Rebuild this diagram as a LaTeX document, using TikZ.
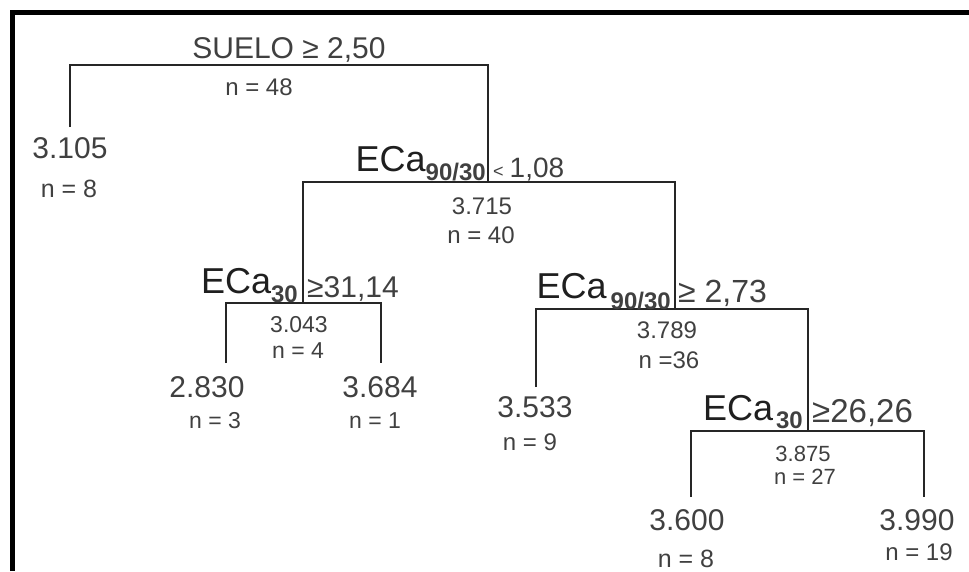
\documentclass[tikz,border=0pt]{standalone}
\usepackage{fontspec}
\setmainfont{Liberation Sans}
\begin{document}
\begin{tikzpicture}[x=1pt,y=-1pt,
  edge/.style={draw=black!85, line width=1.3pt},
  frame/.style={draw=black, line width=5pt},
  lbl/.style={inner sep=0pt, text=black!75},
  fs/.style={font=\fontsize{#1}{#1}\selectfont},
]
\useasboundingbox (0,0) rectangle (969,571);
\newcommand\varname[2]{{\color{black!88}\fontsize{36}{36}\selectfont ECa}\raisebox{-#2pt}{\fontsize{24}{24}\selectfont\bfseries #1}}

% frame along top and left
\draw[frame] (12.5,571) -- (12.5,12.5) -- (969,12.5);

% split points and branch ends
\coordinate (s1) at (488,65);
\coordinate (s2) at (488,182);
\coordinate (s3) at (303,303);
\coordinate (s4) at (675,309);
\coordinate (s5) at (808,431);
\coordinate (l1) at (70,127);
\coordinate (l3a) at (226,363);
\coordinate (l3b) at (381,363);
\coordinate (l4a) at (536,387);
\coordinate (l5a) at (691,497);
\coordinate (l5b) at (924,497);

% branches
\draw[edge] (l1) |- (s1) -- (s2);
\draw[edge] (s3) |- (s2) -| (s4);
\draw[edge] (l3a) |- (s3) -| (l3b);
\draw[edge] (l4a) |- (s4) -| (s5);
\draw[edge] (l5a) |- (s5) -| (l5b);

% root
\node[lbl, fs=30, anchor=base] (c1) at (289,58) {SUELO ≥ 2,50};
\node[lbl, fs=24, anchor=base] (n1) at (259,95) {n = 48};
\node[lbl, fs=30, anchor=base] (v1) at (70,158) {3.105};
\node[lbl, fs=25, anchor=base] (m1) at (69,197) {n = 8};

% split on ECa 90/30 < 1,08
\node[lbl, anchor=base east] (c2) at (486,171) {\varname{90/30}{9}};
\node[lbl, anchor=base west] (d2) at (493,177) {{\fontsize{18}{18}\selectfont <}\hspace{6pt}{\fontsize{28}{28}\selectfont 1,08}};
\node[lbl, fs=24, anchor=base] (v2) at (482,214) {3.715};
\node[lbl, fs=24, anchor=base] (n2) at (481,243) {n = 40};

% split on ECa 30 >= 31,14
\node[lbl, anchor=base east] (c3) at (298,293) {\varname{30}{9}};
\node[lbl, fs=30, anchor=base west] (d3) at (307,297) {≥31,14};
\node[lbl, fs=23, anchor=base] (v3) at (299,332) {3.043};
\node[lbl, fs=23, anchor=base] (n3) at (298,358) {n = 4};
\node[lbl, fs=30, anchor=base] (v3a) at (207,397) {2.830};
\node[lbl, fs=23, anchor=base] (m3a) at (215,428) {n = 3};
\node[lbl, fs=30, anchor=base] (v3b) at (380,397) {3.684};
\node[lbl, fs=23, anchor=base] (m3b) at (375,428) {n = 1};

% split on ECa 90/30 >= 2,73
\node[lbl, anchor=base east] (c4) at (671,298) {\varname{\hspace{4pt}90/30}{11}};
\node[lbl, fs=32, anchor=base west] (d4) at (678,302) {≥ 2,73};
\node[lbl, fs=24, anchor=base] (v4) at (667,338) {3.789};
\node[lbl, fs=24, anchor=base] (n4) at (669,368) {n =36};
\node[lbl, fs=30, anchor=base] (v4a) at (535,417) {3.533};
\node[lbl, fs=24, anchor=base] (m4a) at (530,450) {n = 9};

% split on ECa 30 >= 26,26
\node[lbl, anchor=base east] (c5) at (803,420) {\varname{\hspace{3pt}30}{8}};
\node[lbl, fs=33, anchor=base west] (d5) at (812,422) {≥26,26};
\node[lbl, fs=22, anchor=base] (v5) at (803,461) {3.875};
\node[lbl, fs=22, anchor=base] (n5) at (805,484) {n = 27};
\node[lbl, fs=30, anchor=base] (v5a) at (687,530) {3.600};
\node[lbl, fs=25, anchor=base] (m5a) at (686,567) {n = 8};
\node[lbl, fs=30, anchor=base] (v5b) at (917,530) {3.990};
\node[lbl, fs=24, anchor=base] (m5b) at (919,560) {n = 19};
\end{tikzpicture}
\end{document}
